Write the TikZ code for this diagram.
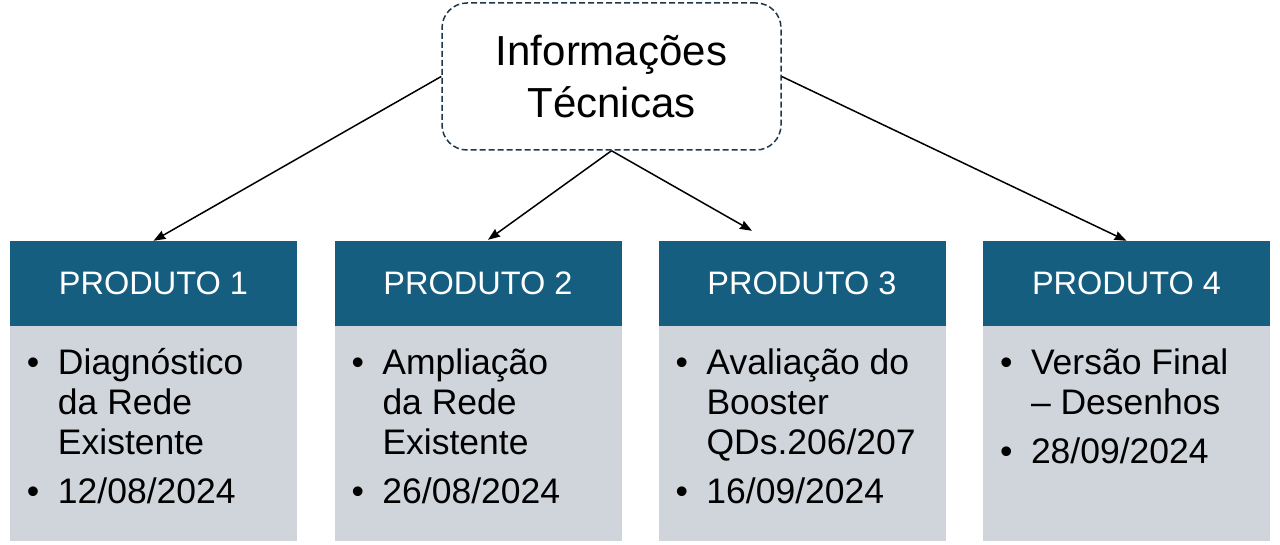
\documentclass[tikz,border=0pt]{standalone}
\usepackage{fontspec}
\setmainfont{Liberation Sans}
\usetikzlibrary{positioning,arrows.meta}

\definecolor{headblue}{RGB}{22,94,128}
\definecolor{bodygray}{RGB}{208,213,220}
\definecolor{dashnavy}{RGB}{30,55,75}
\newcommand{\prodlist}[1]{\begin{tabular}{@{}p{31pt}@{}l@{}}#1\end{tabular}}

\begin{document}
\begin{tikzpicture}[x=1pt,y=1pt,
    infobox/.style={draw=dashnavy, line width=1.5pt, dash pattern=on 6pt off 3pt,
      rounded corners=25pt, fill=white, minimum width=339pt, minimum height=147pt,
      align=center, font=\fontsize{42}{52}\selectfont},
    headbox/.style={fill=headblue, text=white, minimum width=287pt, minimum height=85pt,
      inner sep=0pt, font=\fontsize{32.5}{38}\selectfont},
    bodybox/.style={fill=bodygray, minimum width=287pt, minimum height=215pt, inner sep=0pt},
    bodytext/.style={anchor=north west, inner sep=0pt, font=\fontsize{35.5}{40}\selectfont},
    link/.style={-{Stealth[length=12pt,width=9pt,inset=1pt]}, line width=1.5pt}]
    \useasboundingbox (0,0) rectangle (1280,545);
    % title
    \node[infobox] (info) at (611.5,468.5) {Informações\\Técnicas};
    % product headers
    \node[headbox] (p1h) at (153.5,261.5) {PRODUTO 1};
    \node[headbox] (p2h) at (478,261.5) {PRODUTO 2};
    \node[headbox] (p3h) at (802,261.5) {PRODUTO 3};
    \node[headbox] (p4h) at (1126.5,261.5) {PRODUTO 4};
    % product bodies
    \node[bodybox, below=0pt of p1h] (p1b) {};
    \node[bodybox, below=0pt of p2h] (p2b) {};
    \node[bodybox, below=0pt of p3h] (p3b) {};
    \node[bodybox, below=0pt of p4h] (p4b) {};
    \node[bodytext] (p1t) at ([xshift=17pt,yshift=-20pt]p1b.north west)
      {\prodlist{\textbullet & Diagnóstico\\ & da Rede\\ & Existente\\[9pt] \textbullet & 12/08/2024}};
    \node[bodytext] (p2t) at ([xshift=17pt,yshift=-20pt]p2b.north west)
      {\prodlist{\textbullet & Ampliação\\ & da Rede\\ & Existente\\[9pt] \textbullet & 26/08/2024}};
    \node[bodytext] (p3t) at ([xshift=17pt,yshift=-20pt]p3b.north west)
      {\prodlist{\textbullet & Avaliação do\\ & Booster\\ & QDs.206/207\\[9pt] \textbullet & 16/09/2024}};
    \node[bodytext] (p4t) at ([xshift=17pt,yshift=-20pt]p4b.north west)
      {\prodlist{\textbullet & Versão Final\\ & -- Desenhos\\[9pt] \textbullet & 28/09/2024}};
    % arrows
    \draw[link] (info.west) -- (p1h.north);
    \draw[link] (info.south) -- ([xshift=10pt,yshift=1pt]p2h.north);
    \draw[link] (info.south) -- ([xshift=-50pt,yshift=10pt]p3h.north);
    \draw[link] (info.east) -- (p4h.north);
\end{tikzpicture}
\end{document}
